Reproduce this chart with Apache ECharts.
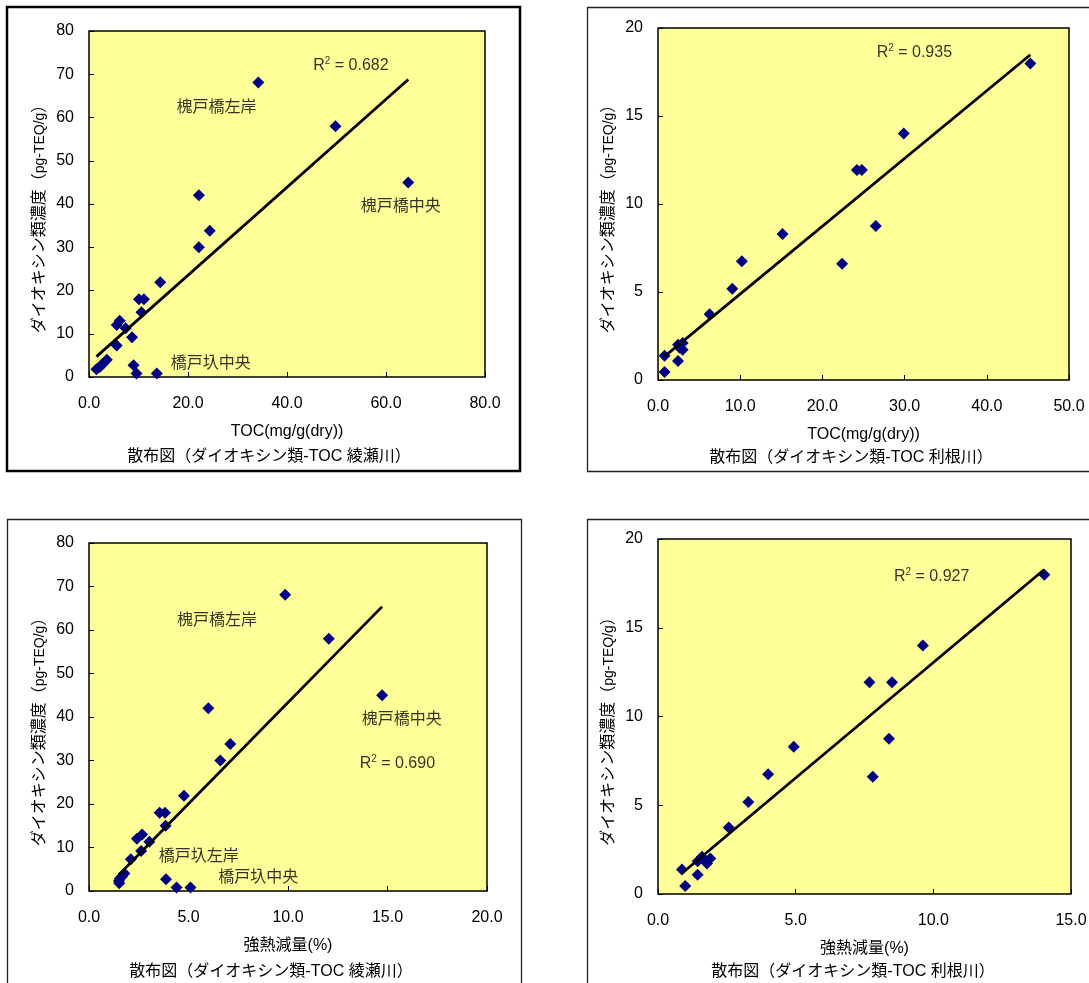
<!DOCTYPE html>
<html>
<head>
<meta charset="utf-8">
<script src="https://cdn.jsdelivr.net/npm/echarts@6/dist/echarts.min.js"></script>
<style>
  html, body { margin: 0; padding: 0; background: #ffffff; }
  #chart { width: 1089px; height: 983px; }
</style>
</head>
<body>
<div id="chart"></div>
<script>
// 綾瀬川: TOC (mg/g dry), 強熱減量 (%), ダイオキシン類濃度 (pg-TEQ/g)
const ayaseToc      = [34.2, 49.8, 64.5, 22.2, 24.4, 22.2, 14.4, 10.1, 11.1, 10.6, 5.6, 6.2, 7.4, 8.7, 5.6, 3.6, 3.0, 2.6, 2.2, 1.5, 9.0, 9.6, 13.7];
const ayaseIgnition = [9.86, 12.05, 14.73, 6.0, 7.1, 6.6, 4.77, 3.55, 3.82, 3.85, 2.41, 2.67, 3.03, 2.62, 2.1, 1.78, 1.65, 1.55, 1.5, 1.52, 3.87, 4.4, 5.1];
const ayaseDioxin   = [68.1, 58.0, 45.0, 42.0, 33.8, 30.0, 21.9, 18.0, 18.0, 15.0, 12.0, 13.0, 11.3, 9.2, 7.3, 4.0, 3.3, 2.9, 2.3, 1.8, 2.7, 0.8, 0.8];

// 利根川
const toneToc      = [45.3, 29.9, 24.2, 24.8, 26.5, 22.4, 15.15, 10.2, 9.04, 6.28, 0.8, 0.8, 2.43, 2.43, 3.0, 3.0, 2.6];
const toneIgnition = [14.03, 9.62, 7.68, 8.5, 8.39, 7.8, 4.93, 4.0, 3.28, 2.57, 0.87, 0.99, 1.44, 1.9, 1.6, 1.78, 1.44];
const toneDioxin   = [17.98, 14.0, 11.93, 11.93, 8.75, 6.6, 8.3, 6.75, 5.18, 3.74, 1.38, 0.45, 1.08, 2.0, 2.1, 1.72, 1.85];

// Coefficients of determination printed beside each trend line
const r2Values = ['0.682', '0.935', '0.690', '0.927'];

// Axis texts
const yAxisTitle = 'ダイオキシン類濃度（';
const yAxisUnit = 'pg-TEQ/g';
const xAxisTitles = ['TOC(mg/g(dry))', 'TOC(mg/g(dry))', '強熱減量(%)', '強熱減量(%)'];
const chartTitles = [
  '散布図（ダイオキシン類-TOC 綾瀬川）',
  '散布図（ダイオキシン類-TOC 利根川）',
  '散布図（ダイオキシン類-TOC 綾瀬川）',
  '散布図（ダイオキシン類-TOC 利根川）'
];

const FONT = '"Liberation Sans", "Noto Sans CJK JP", sans-serif';
const POINT_COLOR = '#000080';

// Panel layout: plot rectangle, axis ranges, caption centre and annotations (data coords)
const panels = [
  {
    xs: ayaseToc, ys: ayaseDioxin, r2: r2Values[0],
    grid: { left: 89, top: 31, width: 396, height: 346 },
    x: { max: 80, interval: 20 }, y: { max: 80, interval: 10 },
    caption: [269, 457],
    r2At: [45.3, 72.1],
    notes: [
      { text: '槐戸橋左岸', at: [17.7, 62.2] },
      { text: '槐戸橋中央', at: [54.9, 39.3] },
      { text: '橋戸圦中央', at: [16.5, 3.2] }
    ]
  },
  {
    xs: toneToc, ys: toneDioxin, r2: r2Values[1],
    grid: { left: 658, top: 28, width: 411, height: 352 },
    x: { max: 50, interval: 10 }, y: { max: 20, interval: 5 },
    caption: [851, 458],
    r2At: [26.6, 18.6],
    notes: []
  },
  {
    xs: ayaseIgnition, ys: ayaseDioxin, r2: r2Values[2],
    grid: { left: 89, top: 543, width: 398, height: 348 },
    x: { max: 20, interval: 5 }, y: { max: 80, interval: 10 },
    caption: [271, 972],
    r2At: [13.6, 29.4],
    notes: [
      { text: '槐戸橋左岸', at: [4.42, 62.1] },
      { text: '槐戸橋中央', at: [13.7, 39.5] },
      { text: '橋戸圦左岸', at: [3.5, 8.0] },
      { text: '橋戸圦中央', at: [6.5, 3.0] }
    ]
  },
  {
    xs: toneIgnition, ys: toneDioxin, r2: r2Values[3],
    grid: { left: 658, top: 539, width: 413, height: 355 },
    x: { max: 15, interval: 5 }, y: { max: 20, interval: 5 },
    caption: [853, 972],
    r2At: [8.57, 17.9],
    notes: []
  }
];

// Least-squares linear trend line drawn across the observed x range
function trendLine(xs, ys) {
  const n = xs.length;
  const mx = xs.reduce((a, b) => a + b, 0) / n;
  const my = ys.reduce((a, b) => a + b, 0) / n;
  let sxy = 0, sxx = 0;
  for (let i = 0; i < n; i++) {
    sxy += (xs[i] - mx) * (ys[i] - my);
    sxx += (xs[i] - mx) * (xs[i] - mx);
  }
  const slope = sxy / sxx;
  const icpt = my - slope * mx;
  const x0 = Math.min.apply(null, xs), x1 = Math.max.apply(null, xs);
  return [[x0, icpt + slope * x0], [x1, icpt + slope * x1]];
}

const grids = [], xAxes = [], yAxes = [], series = [], graphics = [];

panels.forEach((p, i) => {
  grids.push(Object.assign({
    show: true,
    backgroundColor: '#FFFF99',
    borderColor: '#000000',
    borderWidth: 1.5,
    containLabel: false,
    outerBoundsMode: 'none'
  }, p.grid));

  xAxes.push({
    gridIndex: i, type: 'value', min: 0, max: p.x.max, interval: p.x.interval,
    axisLine: { show: false },
    axisTick: { show: true, inside: true, length: 5, lineStyle: { color: '#000', width: 1 } },
    splitLine: { show: false },
    axisLabel: {
      margin: 19, color: '#000', fontSize: 16, fontFamily: FONT,
      formatter: v => v.toFixed(1)
    },
    name: xAxisTitles[i], nameLocation: 'middle', nameGap: 47,
    nameTextStyle: { color: '#000', fontSize: 16, fontFamily: FONT }
  });

  yAxes.push({
    gridIndex: i, type: 'value', min: 0, max: p.y.max, interval: p.y.interval,
    axisLine: { show: false },
    axisTick: { show: true, inside: true, length: 5, lineStyle: { color: '#000', width: 1 } },
    splitLine: { show: false },
    axisLabel: { margin: 15, color: '#000', fontSize: 16, fontFamily: FONT },
    name: '{a|' + yAxisTitle + '}{b|' + yAxisUnit + '}{a|）}',
    nameLocation: 'middle', nameGap: 41,
    nameTextStyle: {
      color: '#000', padding: [0, 22, 0, 0],
      rich: {
        a: { fontSize: 16, fontFamily: FONT, color: '#000' },
        b: { fontSize: 14, fontFamily: FONT, color: '#000' }
      }
    }
  });

  series.push({
    type: 'scatter', xAxisIndex: i, yAxisIndex: i,
    symbol: 'diamond', symbolSize: 12,
    itemStyle: { color: POINT_COLOR, opacity: 1 },
    data: p.xs.map((x, k) => [x, p.ys[k]]),
    z: 3
  });

  series.push({
    type: 'line', xAxisIndex: i, yAxisIndex: i,
    data: trendLine(p.xs, p.ys),
    showSymbol: false, symbol: 'none',
    lineStyle: { color: '#000', width: 2.8 },
    silent: true, z: 4
  });

  // Text annotations anchored in data coordinates (left edge, vertical centre)
  const noteData = p.notes.map(n => ({
    value: n.at,
    label: { formatter: n.text, fontSize: 16, fontFamily: FONT, color: '#000' }
  }));
  noteData.push({
    value: p.r2At,
    label: {
      formatter: '{t|R}{s|2}{t| = ' + p.r2 + '}',
      rich: {
        t: { fontSize: 16, fontFamily: FONT, color: '#000', lineHeight: 18 },
        s: { fontSize: 10, fontFamily: FONT, color: '#000', verticalAlign: 'top', lineHeight: 10 }
      }
    }
  });
  series.push({
    type: 'scatter', xAxisIndex: i, yAxisIndex: i,
    symbol: 'circle', symbolSize: 1,
    itemStyle: { color: 'rgba(0,0,0,0)' },
    label: { show: true, position: 'inside', align: 'left', verticalAlign: 'middle' },
    data: noteData, silent: true, z: 5
  });

  graphics.push({
    type: 'text', x: p.caption[0], y: p.caption[1],
    style: {
      text: chartTitles[i], align: 'center', verticalAlign: 'middle',
      font: '16px ' + FONT, fill: '#000'
    }
  });
});

// Chart frames
graphics.push(
  { type: 'rect', shape: { x: 7, y: 7, width: 513, height: 464 },
    style: { fill: 'none', stroke: '#000', lineWidth: 2.5 } },
  { type: 'rect', shape: { x: 587.5, y: 7.5, width: 520, height: 464 },
    style: { fill: 'none', stroke: '#222', lineWidth: 1.3 } },
  { type: 'rect', shape: { x: 7.5, y: 519.5, width: 514, height: 480 },
    style: { fill: 'none', stroke: '#222', lineWidth: 1.3 } },
  { type: 'rect', shape: { x: 587.5, y: 519.5, width: 520, height: 480 },
    style: { fill: 'none', stroke: '#222', lineWidth: 1.3 } }
);

const chart = echarts.init(document.getElementById('chart'), null, { renderer: 'canvas' });
chart.setOption({
  animation: false,
  backgroundColor: '#ffffff',
  grid: grids,
  xAxis: xAxes,
  yAxis: yAxes,
  series: series,
  graphic: graphics
});
</script>
</body>
</html>
